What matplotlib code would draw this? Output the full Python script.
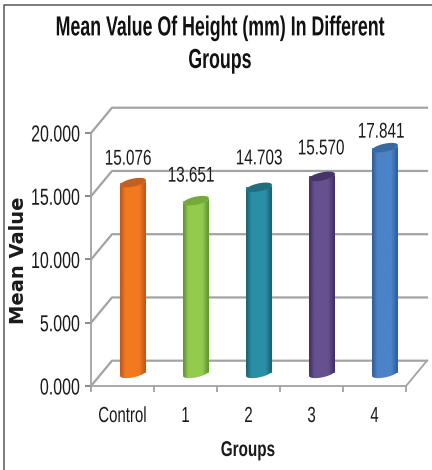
import numpy as np
import matplotlib
matplotlib.use("Agg")
import matplotlib.pyplot as plt
from matplotlib.colors import LinearSegmentedColormap
from matplotlib.lines import Line2D
from matplotlib.patches import Polygon
from matplotlib.patheffects import AbstractPathEffect
from matplotlib.transforms import Affine2D

groups = ["Control", "1", "2", "3", "4"]
means = [15.076, 13.651, 14.703, 15.570, 17.841]
y_ticks = [0, 5, 10, 15, 20]
body_colors = ["#F2791F", "#93CB4C", "#2A8FA6", "#67508F", "#4C82C8"]
edge_colors = ["#B9541A", "#5F9132", "#17606F", "#3F2C63", "#2F5C92"]
top_colors = ["#C4601F", "#74A93B", "#1F6F80", "#46336A", "#38699F"]
label_lift = [24, 25, 29, 28, 16]
label_shift = [-5, -5, 0, -1, -4]

W, H = 432, 470
GREY = "#a3a3a3"
INK = "#1a1a1a"
FONT = "Liberation Sans"
# 3d look: back wall is shifted by this much in data units
DX, DY = 1 / 3, 2.0
BAR_W = 0.41
TILT, ROUND = 0.2, 0.32


class Tall(AbstractPathEffect):
    # the reference font is condensed, so keep the width and stretch the height
    def __init__(self, s=1.4, drop=0):
        super().__init__()
        self.s = s
        self.drop = drop

    def draw_path(self, renderer, gc, tpath, affine, rgbFace=None):
        new = Affine2D().scale(1, self.s) + affine + Affine2D().translate(0, -self.drop)
        renderer.draw_path(gc, tpath, new, rgbFace)


fig = plt.figure(figsize=(W / 100, H / 100), dpi=100)
ax = fig.add_axes([91 / W, (H - 386) / H, 339 / W, 281 / H])
ax.set_xlim(0, 339 / 63)
ax.set_ylim(0, 281 / 12.65)
ax.patch.set_alpha(0)

# walls and grid
for v in y_ticks:
    ax.plot([0, DX, 5 + DX], [v, v + DY, v + DY], color=GREY, lw=1.6, zorder=1,
            clip_on=False)
ax.plot([5, 5 + DX], [0, DY], color=GREY, lw=1.3, zorder=1)

for s in ["top", "right"]:
    ax.spines[s].set_visible(False)
ax.spines["left"].set_bounds(0, 20)
ax.spines["bottom"].set_bounds(0, 5)
for s in ["left", "bottom"]:
    ax.spines[s].set_color(GREY)
    ax.spines[s].set_linewidth(1.3)

ax.set_yticks(y_ticks)
ylabels = ax.set_yticklabels(["%.3f" % v for v in y_ticks], family=FONT, fontsize=11.5, color=INK)
for lab in ylabels:
    lab.set_path_effects([Tall(1.45, 2.5)])
ax.set_xticks(range(6))
ax.set_xticklabels([])
ax.set_xticks(np.arange(5) + 0.5, minor=True)
xlabels = ax.set_xticklabels(groups, minor=True, family=FONT, fontsize=10.8, color=INK)
for lab in xlabels:
    lab.set_path_effects([Tall(1.45, 0)])
ax.tick_params(axis="y", length=4, width=1.2, color="#777777", pad=4)
ax.tick_params(axis="x", which="major", length=4, width=1.2, color="#999999")
ax.tick_params(axis="x", which="minor", length=0, pad=18)

t = np.linspace(0, 2 * np.pi, 80)
for i, v in enumerate(means):
    cx = i + 0.5 + DX / 2
    base = DY / 2
    xl, xr = cx - BAR_W / 2, cx + BAR_W / 2

    bar = ax.bar(cx, v, BAR_W, bottom=base, color=body_colors[i], zorder=3)[0]

    # rounded bottom and tilted top of the cylinder
    ex = np.cos(t) * BAR_W / 2
    ey = np.sin(t) * ROUND + np.cos(t) * TILT
    low = t >= np.pi
    outline = np.vstack([
        np.column_stack([cx + ex[low], base + ey[low]]),
        np.column_stack([cx + ex[low][::-1], base + v + ey[low][::-1]]),
    ])
    clip = Polygon(outline, transform=ax.transData, fc="none", ec="none")
    ax.add_patch(clip)

    cmap = LinearSegmentedColormap.from_list(
        "cyl", [(0, edge_colors[i]), (0.2, body_colors[i]), (0.75, body_colors[i]), (1, edge_colors[i])])
    img = ax.imshow(np.linspace(0, 1, 64)[None, :], cmap=cmap, aspect="auto",
                    extent=[xl, xr, base - 1, base + v + 1], zorder=4)
    img.set_clip_path(clip)
    ax.add_patch(Polygon(np.column_stack([cx + ex, base + v + ey]),
                         fc=top_colors[i], ec="none", zorder=5))

    ann = ax.annotate("%.3f" % v, (cx, base + v), xytext=(label_shift[i], label_lift[i]),
                      textcoords="offset pixels", ha="center", va="center",
                      family=FONT, fontsize=11, color=INK, zorder=6)
    ann.set_path_effects([Tall(1.4, 2)])

ax.set_xlim(0, 339 / 63)
ax.set_ylim(0, 281 / 12.65)

title = fig.text(220 / W, 1 - 68 / H, "Mean Value Of Height (mm) In Different\nGroups",
                 ha="center", va="baseline", family=FONT, fontweight="bold", fontsize=12.8,
                 linespacing=2.2, color="#111111")
title.set_path_effects([Tall(1.55, 0)])
fig.text(19 / W, 1 - 260 / H, "Mean Value", rotation=90, ha="center", va="center",
         family="DejaVu Sans", fontweight="bold", fontsize=14, color=INK)
xl_txt = fig.text(248 / W, 1 - 456 / H, "Groups", ha="center", va="baseline",
                  family=FONT, fontweight="bold", fontsize=11, color=INK)
xl_txt.set_path_effects([Tall(1.4, 0)])

# image frame, only left and top show
fig.add_artist(Line2D([4 / W, 4 / W, 1], [0, 1 - 5 / H, 1 - 5 / H], color="#666666", lw=1.2))

fig.savefig("out.png", dpi=100)
